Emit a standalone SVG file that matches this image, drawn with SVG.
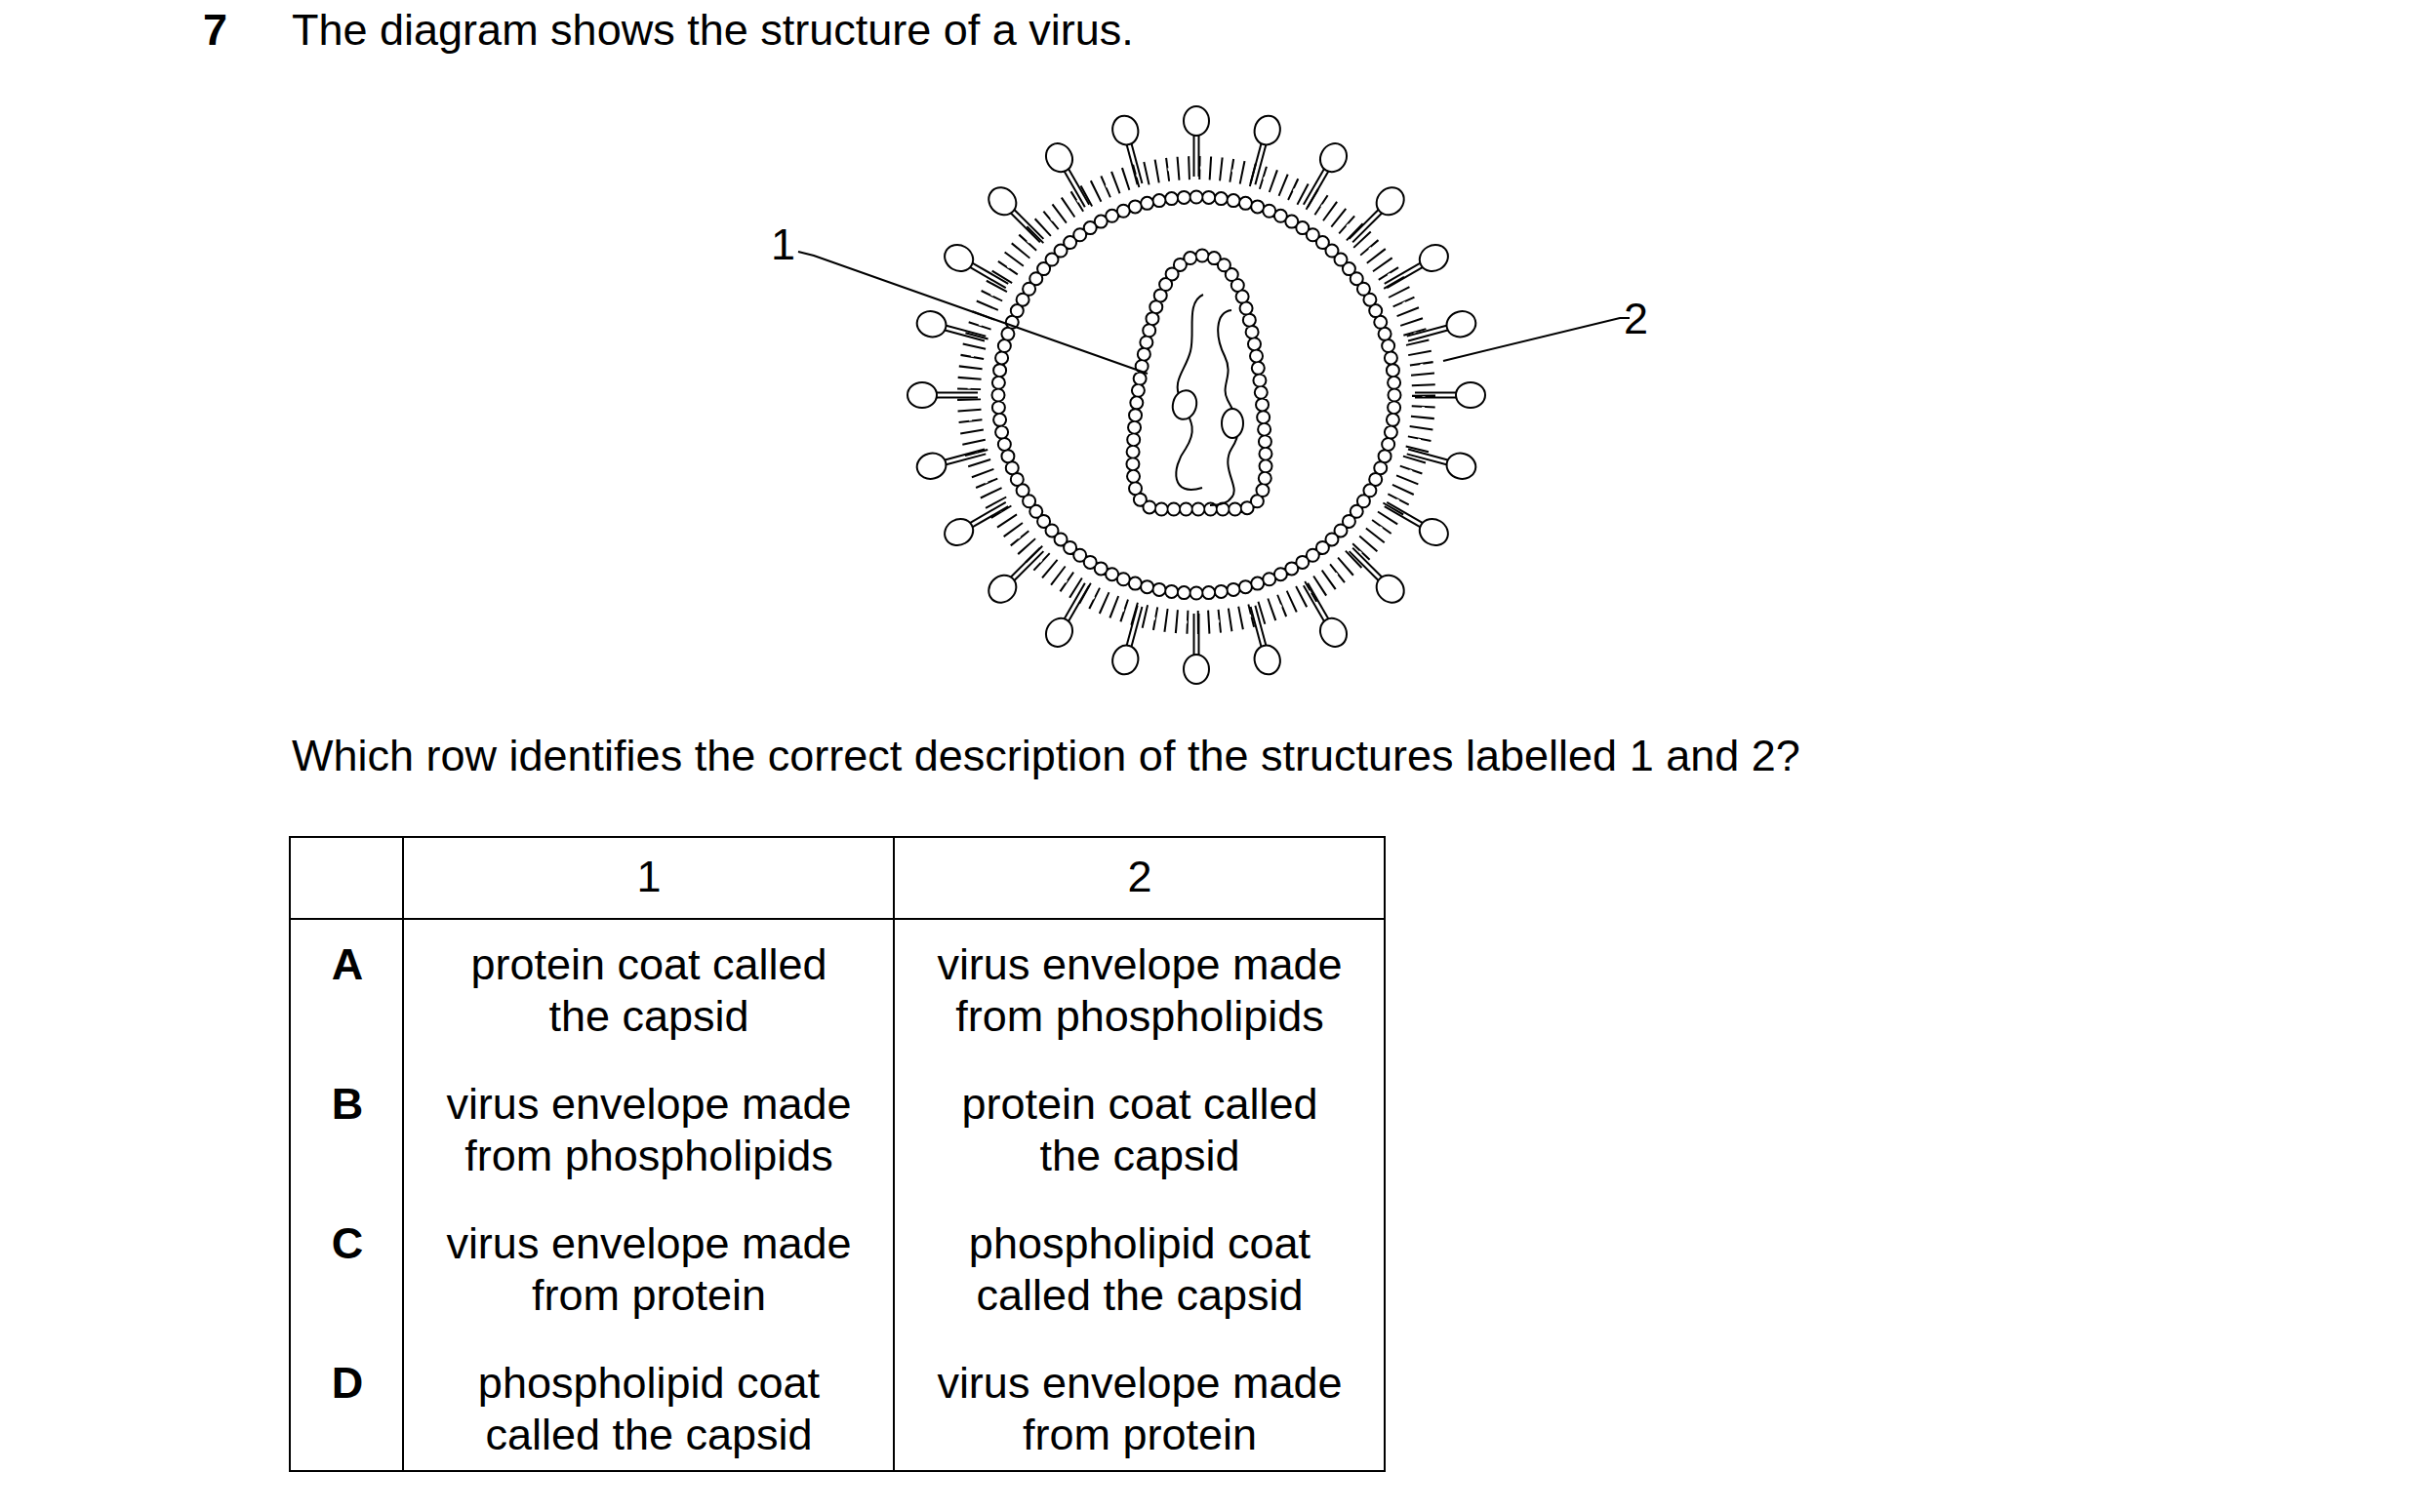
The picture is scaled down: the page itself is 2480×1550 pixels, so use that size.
<svg xmlns="http://www.w3.org/2000/svg" width="2480" height="1550" viewBox="0 0 2480 1550">
<style>
text{font-family:"Liberation Sans",Arial,sans-serif;font-size:45px;fill:#000}
.b{font-weight:bold}
.m{text-anchor:middle}
.ln{stroke:#000;stroke-width:2;fill:none}
.sp{stroke:#000;stroke-width:2;fill:#fff}
</style>
<defs>
<g id="spike">
<line x1="224" y1="-2.5" x2="267" y2="-2.5" class="ln"/>
<line x1="224" y1="2.5" x2="267" y2="2.5" class="ln"/>
<ellipse cx="281" cy="0" rx="15" ry="13" class="sp"/>
</g>
</defs>
<rect width="2480" height="1550" fill="#fff"/>
<text x="208" y="46" class="b">7</text>
<text x="299" y="46">The diagram shows the structure of a virus.</text>
<g id="virus" transform="translate(1226,405)">
<circle r="233" fill="none" stroke="#000" stroke-width="24" stroke-dasharray="2 9"/>
<circle r="233" fill="none" stroke="#fff" stroke-width="3" stroke-dasharray="3 30" transform="rotate(3)"/>
<circle r="203" fill="none" stroke="#000" stroke-width="15" stroke-linecap="round" pathLength="1000" stroke-dasharray="0 10"/>
<circle r="203" fill="none" stroke="#fff" stroke-width="11" stroke-linecap="round" pathLength="1000" stroke-dasharray="0 10"/>
<g id="spikes">
<use href="#spike" transform="rotate(0)"/><use href="#spike" transform="rotate(15)"/><use href="#spike" transform="rotate(30)"/><use href="#spike" transform="rotate(45)"/><use href="#spike" transform="rotate(60)"/><use href="#spike" transform="rotate(75)"/><use href="#spike" transform="rotate(90)"/><use href="#spike" transform="rotate(105)"/><use href="#spike" transform="rotate(120)"/><use href="#spike" transform="rotate(135)"/><use href="#spike" transform="rotate(150)"/><use href="#spike" transform="rotate(165)"/><use href="#spike" transform="rotate(180)"/><use href="#spike" transform="rotate(195)"/><use href="#spike" transform="rotate(210)"/><use href="#spike" transform="rotate(225)"/><use href="#spike" transform="rotate(240)"/><use href="#spike" transform="rotate(255)"/><use href="#spike" transform="rotate(270)"/><use href="#spike" transform="rotate(285)"/><use href="#spike" transform="rotate(300)"/><use href="#spike" transform="rotate(315)"/><use href="#spike" transform="rotate(330)"/><use href="#spike" transform="rotate(345)"/>
</g>
</g>
<g id="capsid">
<path d="M1232,262 C1270,262 1286,330 1294,420 C1300,490 1300,522 1268,522 L1190,522 C1158,522 1158,490 1164,420 C1174,330 1194,262 1232,262 Z" fill="none" stroke="#000" stroke-width="15" stroke-linecap="round" pathLength="540" stroke-dasharray="0 10"/>
<path d="M1232,262 C1270,262 1286,330 1294,420 C1300,490 1300,522 1268,522 L1190,522 C1158,522 1158,490 1164,420 C1174,330 1194,262 1232,262 Z" fill="none" stroke="#fff" stroke-width="11" stroke-linecap="round" pathLength="540" stroke-dasharray="0 10"/>
</g>
<g id="dna">
<path class="ln" d="M1233,302 C1215,310 1225,340 1220,360 C1215,380 1200,390 1210,410 C1220,430 1228,440 1215,460 C1200,480 1200,510 1232,500"/>
<path class="ln" d="M1262,318 C1245,320 1245,345 1255,365 C1265,385 1250,395 1258,410 C1268,428 1275,440 1262,460 C1250,480 1272,500 1262,510 C1258,516 1250,518 1240,518"/>
<ellipse cx="1214" cy="415" rx="12" ry="15" class="sp" transform="rotate(15 1214 415)"/>
<ellipse cx="1263" cy="434" rx="11" ry="15" class="sp"/>
</g>
<g id="connectors">
<polyline class="ln" points="818,258 834,262 1176,383"/>
<polyline class="ln" points="1670,326 1660,326 1479,370"/>
</g>
<g id="labels">
<text x="790" y="266">1</text>
<text x="1664" y="342">2</text>
</g>
<text x="299" y="790">Which row identifies the correct description of the structures labelled 1 and 2?</text>
<g id="table" class="ln">
<rect x="297" y="858" width="1122" height="650"/>
<line x1="297" y1="942" x2="1419" y2="942"/>
<line x1="413" y1="858" x2="413" y2="1508"/>
<line x1="916" y1="858" x2="916" y2="1508"/>
</g>
<g id="tabletext">
<text x="665" y="914" class="m">1</text><text x="1168" y="914" class="m">2</text>
<text x="356" y="1004" class="b m">A</text>
<text x="665" y="1004" class="m">protein coat called</text><text x="665" y="1057" class="m">the capsid</text>
<text x="1168" y="1004" class="m">virus envelope made</text><text x="1168" y="1057" class="m">from phospholipids</text>
<text x="356" y="1147" class="b m">B</text>
<text x="665" y="1147" class="m">virus envelope made</text><text x="665" y="1200" class="m">from phospholipids</text>
<text x="1168" y="1147" class="m">protein coat called</text><text x="1168" y="1200" class="m">the capsid</text>
<text x="356" y="1290" class="b m">C</text>
<text x="665" y="1290" class="m">virus envelope made</text><text x="665" y="1343" class="m">from protein</text>
<text x="1168" y="1290" class="m">phospholipid coat</text><text x="1168" y="1343" class="m">called the capsid</text>
<text x="356" y="1433" class="b m">D</text>
<text x="665" y="1433" class="m">phospholipid coat</text><text x="665" y="1486" class="m">called the capsid</text>
<text x="1168" y="1433" class="m">virus envelope made</text><text x="1168" y="1486" class="m">from protein</text>
</g>
</svg>
